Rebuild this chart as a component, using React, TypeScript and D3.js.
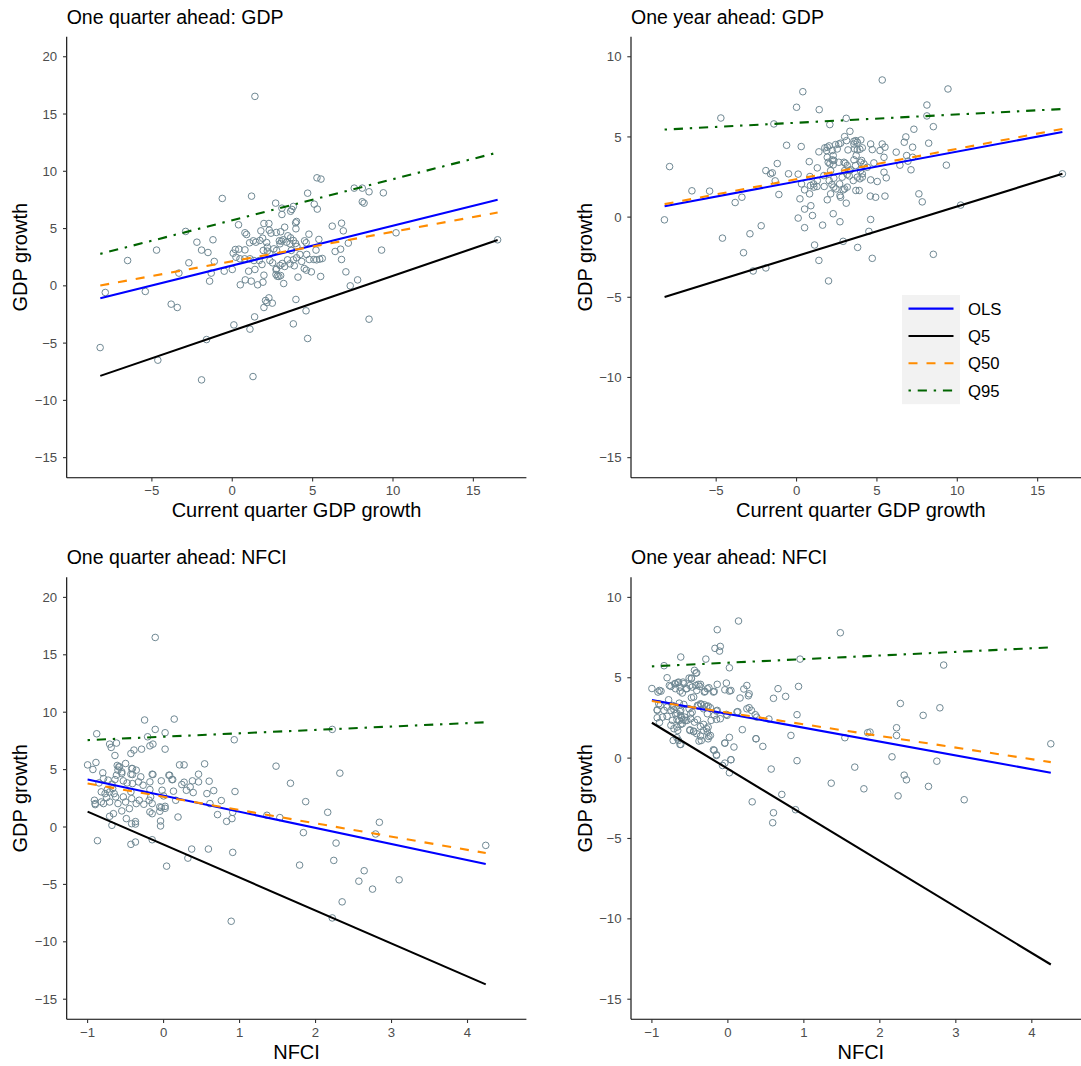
import React from "react";
import * as d3 from "d3";

// ---------- data ----------
const gdpLimits = [-9, 17];
const nfciLimits = [-1, 4.5];
const quarterYLimits = [-15, 20];
const yearYLimits = [-15, 10];

const gdpTicks = [-5, 0, 5, 10, 15];
const nfciTicks = [-1, 0, 1, 2, 3, 4];
const quarterYTicks = [-15, -10, -5, 0, 5, 10, 15, 20];
const yearYTicks = [-15, -10, -5, 0, 5, 10];

const seriesNames = ["OLS", "Q5", "Q50", "Q95"];

// fitted lines: [x start, x end] and per series [y at start, y at end]
const lineXQuarterGdp = [-8.21, 16.51];
const lineYQuarterGdp = [[-1.08, 7.51], [-7.86, 4.0], [0.03, 6.4], [2.79, 11.64]];
const lineXYearGdp = [-8.21, 16.54];
const lineYYearGdp = [[0.68, 5.31], [-4.98, 2.7], [0.81, 5.5], [5.46, 6.74]];
const lineXQuarterNfci = [-1.0, 4.24];
const lineYQuarterNfci = [[4.14, -3.23], [1.34, -13.71], [3.79, -2.27], [7.57, 9.12]];
const lineXYearNfci = [-1.0, 4.25];
const lineYYearNfci = [[3.61, -0.91], [2.2, -12.84], [3.55, -0.25], [5.71, 6.89]];

const pointsQuarterGdp = [
  [1.41,16.54],[-8.22,-5.39],[-7.9,-0.58],[-6.51,2.21],[-5.41,-0.49],[-4.71,3.12],[-4.63,-6.49],[-3.8,-1.6],[-3.42,-1.89],[-2.9,4.75],
  [-3.32,1.11],[-2.7,2.01],[-2.2,3.81],[-1.91,3.12],[-1.51,2.91],[-1.2,4.02],[-1.12,2.13],[-1.31,1.11],[-1.41,0.41],[-1.6,-4.69],
  [-1.91,-8.21],[-0.62,7.63],[-0.5,1.28],[0,1.43],[0.1,-3.41],[0.39,5.33],[0.06,2.85],[0.19,3.17],[0.41,3.2],[0.5,0.09],
  [0.79,4.63],[0.89,4.48],[0.79,3.14],[0.77,2.36],[0.81,0.52],[1.02,1.28],[1.1,-3.78],[1.2,7.83],[1.18,0.41],[1.08,3.76],
  [1.31,3.93],[1.41,1.43],[1.39,-2.71],[1.29,-7.92],[1.58,0.09],[1.78,4.8],[1.89,4.16],[1.97,5.44],[1.85,1.86],[1.97,0.93],
  [1.91,0.32],[2.07,-1.28],[2.16,-1.46],[2.28,-1.05],[1.97,-1.89],[2.49,-1.51],[2.28,5.44],[2.3,4.86],[2.41,4.6],[2.14,3.78],
  [2.18,3.03],[2.34,2.21],[2.51,2.01],[2.7,7.22],[2.74,4.66],[2.93,3.93],[2.97,3.67],[3.01,4.72],[3.09,6.78],[3.09,6.23],
  [3.11,1.95],[3.2,0.2],[2.72,1.43],[2.8,0.84],[2.9,0.82],[3.01,0.9],[3.26,5.12],[3.46,4.37],[3.63,4.19],[3.71,6.67],
  [3.8,6.93],[3.94,5.5],[4.0,5.62],[3.96,4.98],[3.8,3.96],[3.94,3.7],[4.02,3.44],[3.59,3.67],[3.67,3.09],[3.44,2.27],
  [3.8,2.27],[3.86,1.75],[4.09,0.76],[3.96,-1.19],[3.8,-3.32],[4.59,-2.18],[4.69,-4.6],[4.69,8.09],[4.5,3.93],[4.6,3.76],
  [4.77,4.51],[4.48,1.51],[4.61,1.37],[4.32,2.13],[4.63,2.74],[4.79,2.3],[4.92,1.22],[5.08,2.3],[5.21,3.12],[5.44,2.33],
  [5.6,2.39],[5.39,4.05],[5.5,0.82],[5.1,7.13],[5.29,6.7],[5.27,9.43],[5.52,9.32],[6.22,5.21],[6.4,3.0],[6.74,3.2],
  [6.8,5.47],[6.91,4.8],[6.8,2.3],[7.07,1.22],[7.22,3.73],[7.34,0],[7.59,8.53],[7.8,0.52],[8.09,8.53],[8.09,7.34],
  [8.2,7.22],[8.51,8.21],[8.51,-2.91],[9.29,3.12],[9.4,8.12],[10.19,4.63],[16.51,4.02],
  [0.23,2.5],[0.48,2.36],[1.47,3.81],[1.72,3.96],[2.18,3.38],[1.93,3.09],[2.34,2.79],[2.59,3.23],[2.76,3.09],[3.07,3.9],
  [3.17,4.02],[3.38,3.81],[4.21,2.74],[4.0,2.45],[3.59,1.92],[3.26,1.69],[2.97,1.78],[2.76,1.48],[1.68,2.21],[1.35,2.21],
  [1.1,2.36],[2.72,0.99],[5.25,2.27],[3.63,6.51]
];

const pointsYearGdp = [
  [-8.22,-0.17],[-7.9,3.15],[-6.51,1.64],[-5.41,1.62],[-4.71,6.18],[-4.61,-1.31],[-3.82,0.91],[-3.4,1.24],[-3.3,-2.22],[-2.9,-1.04],
  [-2.7,-3.36],[-2.2,-0.54],[-1.91,-3.17],[-1.91,2.9],[-1.62,2.7],[-1.51,2.76],[-1.41,5.81],[-1.33,2.26],[-1.2,3.34],[-1.1,1.41],
  [-0.62,4.48],[-0.5,2.7],[0,6.85],[0.1,2.68],[0.1,-0.06],[0.21,1.14],[0.29,4.4],[0.39,7.82],[0.5,-0.66],[0.5,1.7],
  [0.5,0.5],[0.79,3.46],[0.83,2.53],[0.81,1.45],[0.89,0.71],[0.99,0.1],[1.06,2.07],[1.12,-1.74],[1.29,3.07],[1.27,1.91],
  [1.39,4.07],[1.41,6.7],[1.39,-2.7],[1.62,-0.5],[1.72,1.91],[1.76,4.32],[1.91,1.08],[1.99,-3.98],[2.03,4.44],[2.07,5.77],
  [2.07,3.32],[2.12,2.9],[2.12,1.45],[2.2,2.03],[2.28,0.21],[2.28,3.84],[2.32,3.53],[2.32,2.43],[2.45,1.76],[2.63,4.56],
  [2.7,-0.29],[2.7,1.35],[2.74,1.24],[2.84,2.49],[2.9,-1.51],[2.9,1.7],[2.99,5.02],[3.09,6.16],[3.09,0.87],[3.03,3.36],
  [3.15,2.66],[3.2,4.19],[3.32,5.35],[3.36,2.95],[3.57,4.56],[3.69,4.77],[3.71,3.84],[3.69,1.66],[3.9,1.66],[3.8,-1.89],
  [3.94,4.23],[4.0,4.81],[4.05,3.53],[4.09,2.49],[3.94,2.39],[4.5,-0.89],[4.61,4.56],[4.61,2.32],[4.59,1.31],[4.61,-0.15],
  [4.71,-2.57],[4.71,4.21],[4.81,3.38],[4.92,1.24],[5.02,2.22],[5.19,4.15],[5.33,8.55],[5.33,4.56],[5.44,3.73],[5.5,4.36],
  [5.44,2.8],[5.58,2.45],[5.5,1.31],[6.2,4.05],[6.43,3.24],[6.7,4.67],[6.8,5.0],[6.85,3.84],[6.93,3.49],[7.12,2.95],
  [7.22,4.36],[7.3,5.48],[7.22,3.73],[7.61,1.45],[7.82,0.95],[8.11,6.99],[8.11,6.31],[8.22,4.61],[8.51,5.64],[8.51,-2.32],
  [9.32,3.24],[9.42,7.99],[10.21,0.75],[16.54,2.7],
  [3.11,4.77],[2.74,4.61],[2.43,4.52],[1.91,4.36],[1.87,4.15],[2.22,4.15],[2.53,4.25],[3.57,4.73],[3.78,4.67],[3.61,4.25],
  [3.78,4.19],[4.09,4.32],[1.91,3.73],[1.97,3.42],[2.22,3.57],[2.28,3.26],[2.63,3.42],[2.95,3.42],[3.15,3.22],[2.99,2.9],
  [3.28,2.9],[3.57,3.57],[3.67,3.22],[3.98,3.42],[4.19,3.32],[4.4,3.11],[3.98,2.9],[4.09,2.7],[3.78,2.49],[3.53,2.28],
  [3.28,2.57],[2.68,2.07],[2.32,1.87],[2.03,2.28],[1.7,2.59],[1.29,2.28],[1.08,1.87],[0.87,1.97],[0.31,2.07],[2.99,1.76],
  [3.15,1.87]
];

const pointsQuarterNfci = [
  [-0.11,16.51],[-1.0,5.41],[-0.93,5.01],[-0.89,5.62],[-0.88,8.12],[-0.87,-1.19],[-0.91,2.33],[-0.9,2.04],[-0.8,4.72],[-0.71,7.22],
  [-0.69,6.93],[-0.62,7.31],[-0.64,6.23],[-0.59,5.24],[-0.61,5.36],[-0.6,4.95],[-0.5,5.53],[-0.55,4.8],[-0.43,4.6],[-0.41,5.09],
  [-0.43,6.4],[-0.39,6.7],[-0.29,6.78],[-0.25,9.32],[-0.21,7.86],[-0.18,7.07],[-0.14,7.22],[-0.11,8.5],[0.02,8.21],[0.02,6.78],
  [0.14,9.4],[-0.15,4.6],[-0.03,4.02],[0.08,4.51],[0.12,4.13],[0.21,5.41],[0.27,5.41],[0.27,3.9],[0.24,3.7],[0.38,4.02],
  [0.39,3.0],[0.3,3.2],[0.13,3.12],[-0.02,3.2],[0.0,2.71],[0.16,2.33],[0.02,1.63],[-0.03,1.69],[-0.05,1.37],[-0.04,0.52],
  [-0.04,0.09],[0.19,0.87],[-0.15,-1.11],[0.04,-3.41],[0.37,-1.92],[0.32,-2.71],[0.46,4.6],[0.54,5.5],[0.6,3.99],[0.57,2.91],
  [0.66,3.17],[0.61,2.04],[0.59,-1.92],[0.76,2.3],[0.71,1.08],[0.83,0.49],[0.89,-8.21],[0.91,1.28],[0.91,-2.21],[0.93,7.6],
  [0.94,3.09],[1.36,1.02],[1.48,5.3],[1.53,0.82],[1.67,3.81],[1.79,-3.32],[1.84,-0.49],[1.87,2.21],[2.16,1.28],[2.22,8.5],
  [2.22,-7.92],[2.24,-2.91],[2.27,-1.4],[2.32,4.69],[2.35,-6.52],[2.57,-4.72],[2.64,-3.81],[2.75,-5.41],[2.79,-0.61],[2.84,0.41],
  [3.1,-4.6],[4.24,-1.6],
  [-0.85,3.84],[-0.79,4.22],[-0.73,4.08],[-0.68,3.73],[-0.64,4.13],[-0.62,4.51],[-0.58,5.24],[-0.55,4.66],[-0.53,4.02],[-0.48,3.84],
  [-0.42,5.09],[-0.41,4.57],[-0.36,4.95],[-0.3,4.37],[-0.33,3.93],[-0.41,3.78],[-0.27,3.64],[-0.18,3.93],[-0.14,4.57],[0.07,4.51],
  [0.11,4.13],[-0.82,3.06],[-0.77,2.91],[-0.74,3.26],[-0.71,3.06],[-0.67,3.35],[-0.65,2.91],[-0.63,2.62],[-0.75,2.56],[-0.82,2.18],
  [-0.9,1.95],[-0.79,2.04],[-0.71,2.18],[-0.6,2.04],[-0.53,2.62],[-0.5,2.18],[-0.43,3.06],[-0.42,2.47],[-0.36,2.04],[-0.32,2.33],
  [-0.26,1.98],[-0.19,2.33],[-0.45,1.6],[-0.55,1.4],[-0.66,1.16],[-0.71,0.93],[-0.68,0.15],[-0.49,0.73],[-0.42,0.29],[-0.37,0.47],
  [-0.37,0.26],[-0.18,1.31],[-0.15,1.16],[-0.05,1.75],[0.02,1.8],[-0.43,-1.51],[-0.37,-1.31],[-0.18,3.26],[-0.17,2.62],[-0.15,2.04],
  [0.35,3.49],[0.46,3.93],[0.9,0.73]
];

const pointsYearNfci = [
  [0.14,8.53],[-0.14,7.99],[1.48,7.8],[-0.17,6.83],[-0.1,6.95],[-0.11,6.66],[-0.62,6.29],[-0.29,6.16],[0.95,6.16],[-0.84,5.75],
  [0.02,5.62],[2.84,5.79],[-0.44,5.46],[-0.41,5.31],[-0.8,5.0],[-0.51,4.98],[-0.48,4.98],[-1.0,4.33],[-0.9,4.21],[-0.92,4.11],
  [-0.88,4.17],[-0.75,4.46],[-0.7,4.63],[-0.66,4.69],[-0.63,4.42],[-0.69,4.32],[-0.63,4.17],[-0.59,4.73],[-0.55,4.32],[-0.6,4.05],
  [-0.47,4.42],[-0.42,4.52],[-0.39,4.59],[-0.37,4.46],[-0.41,4.21],[-0.3,4.15],[-0.25,4.38],[-0.18,4.15],[-0.14,4.59],[-0.02,4.67],
  [-0.04,4.25],[0.02,4.17],[0.25,4.52],[0.21,4.3],[0.16,3.74],[0.27,3.88],[0.66,4.32],[0.6,3.72],[0.76,3.84],[0.93,4.46],
  [-0.78,3.63],[-0.91,3.38],[-0.93,2.97],[-0.86,2.55],[-0.9,2.22],[-0.8,3.17],[-0.73,3.28],[-0.71,3.01],[-0.69,2.76],[-0.64,3.42],
  [-0.63,2.9],[-0.62,2.65],[-0.64,2.34],[-0.6,2.14],[-0.66,1.72],[-0.72,1.1],[-0.67,1.27],[-0.63,0.85],[-0.57,2.55],[-0.54,2.34],
  [-0.59,2.38],[-0.49,2.76],[-0.48,3.76],[-0.45,3.8],[-0.5,1.72],[-0.45,1.64],[-0.41,1.52],[-0.38,1.06],[-0.36,1.37],[-0.44,2.24],
  [-0.39,3.26],[-0.35,3.34],[-0.31,3.32],[-0.28,3.22],[-0.26,3.24],[-0.32,2.1],[-0.26,1.93],[-0.27,1.62],[-0.26,1.2],[-0.23,1.41],
  [-0.22,2.35],[-0.15,2.41],[-0.15,2.93],[-0.02,2.72],[-0.18,0.48],[-0.15,0.21],[-0.04,0.94],[0.02,1.29],[-0.04,-0.31],[0.02,-0.91],
  [0.04,-0.1],[0.08,0.69],[0.12,2.87],[0.13,2.89],[0.19,1.77],[0.28,3.14],[0.31,2.97],[0.36,2.7],[0.38,2.55],[0.37,1.21],
  [0.46,0.73],[0.54,2.43],[0.57,-0.68],[0.6,-3.4],[0.59,-4.02],[0.71,-2.26],[0.32,-2.72],[0.83,1.41],[0.91,2.7],[0.91,-0.16],
  [0.89,-3.21],[1.36,-1.56],[1.54,1.27],[1.67,-0.56],[1.79,-1.91],[1.84,1.58],[1.87,1.62],[2.16,0.08],[2.22,1.89],[2.22,1.41],
  [2.24,-2.35],[2.27,3.4],[2.32,-1.06],[2.35,-1.35],[2.57,2.66],[2.64,-1.76],[2.75,-0.19],[2.79,3.13],[3.11,-2.59],[4.25,0.89],
  [-0.77,4.52],[-0.69,4.63],[-0.65,4.73],[-0.58,4.63],[-0.54,4.32],[-0.5,4.52],[-0.48,4.94],[-0.42,5.29],[-0.36,4.59],[-0.31,4.11],
  [-0.27,4.32],[-0.19,4.11],[0.04,4.21],[0.28,4.0],
  [-0.93,3.01],[-0.89,3.28],[-0.84,2.97],[-0.75,2.97],[-0.71,3.22],[-0.67,2.8],[-0.62,2.97],[-0.58,3.34],[-0.51,3.07],[-0.47,2.86],
  [-0.4,3.28],[-0.36,3.38],[-0.32,3.07],[-0.27,2.76],[-0.23,3.13],[-0.18,2.66],[-0.14,2.97],[-0.1,2.45],[-0.01,2.66],[0.25,3.07],
  [-0.93,2.51],[-0.8,2.6],[-0.73,2.35],[-0.67,2.39],[-0.61,2.51],[-0.56,2.35],[-0.49,2.45],[-0.4,2.39],[-0.75,2.04],[-0.71,1.83],
  [-0.67,1.93],[-0.62,2.1],[-0.5,1.76],[-0.45,1.68],[-0.36,1.97],[-0.32,1.72],[-0.28,1.83],[-0.25,1.35],[-0.35,1.1],[-0.62,0.85],
  [-0.65,1.1],[-0.19,0.52],[-0.15,0.17],[-0.07,-0.46],[0.04,-0.1],[-0.04,0.93],[0.37,1.2]
];

// ---------- styles ----------
const FONT = "'Liberation Sans', Arial, Helvetica, sans-serif";
const seriesColor = ["#0000FF", "#000000", "#FF8C00", "#006400"];
const seriesDash = [null, null, "9,9", "2.4,6.8,9.2,6.8"];
const pointColor = "#6F8893";

type PanelCfg = {
  title: string;
  xLabel: string;
  left: number;
  right: number;
  top: number;
  bottom: number;
  xLim: number[];
  yLim: number[];
  xTicks: number[];
  yTicks: number[];
  points: number[][];
  lineX: number[];
  lineY: number[][];
  legend?: boolean;
};

const expand = (lim: number[]) => {
  const w = lim[1] - lim[0];
  return [lim[0] - 0.05 * w, lim[1] + 0.05 * w];
};

const fmt = (v: number) => (v < 0 ? "\u2212" + Math.abs(v) : String(v));

function Panel({ cfg }: { cfg: PanelCfg }) {
  const x = d3.scaleLinear().domain(expand(cfg.xLim)).range([cfg.left, cfg.right]);
  const y = d3.scaleLinear().domain(expand(cfg.yLim)).range([cfg.bottom, cfg.top]);
  const line = d3
    .line<number[]>()
    .x((d) => x(d[0]))
    .y((d) => y(d[1]));
  const midX = (cfg.left + cfg.right) / 2;
  const midY = (cfg.top + cfg.bottom) / 2;
  return (
    <g>
      <text x={cfg.left} y={cfg.top - 13} fontSize={19.5} fontFamily={FONT} fill="#000">
        {cfg.title}
      </text>
      {cfg.points.map((p, i) => (
        <circle
          key={i}
          cx={x(p[0])}
          cy={y(p[1])}
          r={3.3}
          fill="none"
          stroke={pointColor}
          strokeWidth={1}
        />
      ))}
      {cfg.lineY.map((ys, i) => (
        <path
          key={i}
          d={line([[cfg.lineX[0], ys[0]], [cfg.lineX[1], ys[1]]]) || ""}
          fill="none"
          stroke={seriesColor[i]}
          strokeWidth={2.1}
          strokeDasharray={seriesDash[i] || undefined}
        />
      ))}
      {/* axes */}
      <line x1={cfg.left} x2={cfg.left} y1={cfg.top} y2={cfg.bottom} stroke="#000" strokeWidth={1.1} />
      <line x1={cfg.left} x2={cfg.right} y1={cfg.bottom} y2={cfg.bottom} stroke="#000" strokeWidth={1.1} />
      {cfg.yTicks.map((t) => (
        <g key={"y" + t}>
          <line x1={cfg.left - 3.7} x2={cfg.left} y1={y(t)} y2={y(t)} stroke="#333" strokeWidth={1.1} />
          <text
            x={cfg.left - 9.5}
            y={y(t) + 4.6}
            textAnchor="end"
            fontSize={13.2}
            fontFamily={FONT}
            fill="#4D4D4D"
          >
            {fmt(t)}
          </text>
        </g>
      ))}
      {cfg.xTicks.map((t) => (
        <g key={"x" + t}>
          <line x1={x(t)} x2={x(t)} y1={cfg.bottom} y2={cfg.bottom + 3.7} stroke="#333" strokeWidth={1.1} />
          <text
            x={x(t)}
            y={cfg.bottom + 17.3}
            textAnchor="middle"
            fontSize={13.2}
            fontFamily={FONT}
            fill="#4D4D4D"
          >
            {fmt(t)}
          </text>
        </g>
      ))}
      <text x={midX} y={cfg.bottom + 39.5} textAnchor="middle" fontSize={20} fontFamily={FONT} fill="#000">
        {cfg.xLabel}
      </text>
      <text
        transform={`translate(${cfg.left - 39.5},${midY}) rotate(-90)`}
        textAnchor="middle"
        fontSize={20}
        fontFamily={FONT}
        fill="#000"
      >
        GDP growth
      </text>
      {cfg.legend && <Legend />}
    </g>
  );
}

function Legend() {
  const kx = 902;
  const ky = 295;
  const kw = 58;
  const kh = 27.3;
  return (
    <g>
      <rect x={kx} y={ky} width={kw} height={kh * seriesNames.length} fill="#F2F2F2" />
      {seriesNames.map((name, i) => {
        const cy = ky + kh * (i + 0.5);
        return (
          <g key={name}>
            <line
              x1={kx + 6.5}
              x2={kx + kw - 6.5}
              y1={cy}
              y2={cy}
              stroke={seriesColor[i]}
              strokeWidth={2.1}
              strokeDasharray={seriesDash[i] || undefined}
            />
            <text x={kx + 66} y={cy + 6} fontSize={16.7} fontFamily={FONT} fill="#000">
              {name}
            </text>
          </g>
        );
      })}
    </g>
  );
}

const panels: PanelCfg[] = [
  {
    title: "One quarter ahead: GDP",
    xLabel: "Current quarter GDP growth",
    left: 66.7, right: 526.4, top: 36.7, bottom: 477.7,
    xLim: gdpLimits, yLim: quarterYLimits, xTicks: gdpTicks, yTicks: quarterYTicks,
    points: pointsQuarterGdp, lineX: lineXQuarterGdp, lineY: lineYQuarterGdp,
  },
  {
    title: "One year ahead: GDP",
    xLabel: "Current quarter GDP growth",
    left: 631, right: 1090.7, top: 36.7, bottom: 477.7,
    xLim: gdpLimits, yLim: yearYLimits, xTicks: gdpTicks, yTicks: yearYTicks,
    points: pointsYearGdp, lineX: lineXYearGdp, lineY: lineYYearGdp, legend: true,
  },
  {
    title: "One quarter ahead: NFCI",
    xLabel: "NFCI",
    left: 66.7, right: 526.4, top: 577.3, bottom: 1019.3,
    xLim: nfciLimits, yLim: quarterYLimits, xTicks: nfciTicks, yTicks: quarterYTicks,
    points: pointsQuarterNfci, lineX: lineXQuarterNfci, lineY: lineYQuarterNfci,
  },
  {
    title: "One year ahead: NFCI",
    xLabel: "NFCI",
    left: 631, right: 1090.7, top: 577.3, bottom: 1019.3,
    xLim: nfciLimits, yLim: yearYLimits, xTicks: nfciTicks, yTicks: yearYTicks,
    points: pointsYearNfci, lineX: lineXYearNfci, lineY: lineYYearNfci,
  },
];

export default function App() {
  return (
    <svg
      width={1081}
      height={1066}
      style={{ position: "absolute", left: 0, top: 0, background: "#fff" }}
    >
      <rect x={0} y={0} width={1081} height={1066} fill="#fff" />
      {panels.map((p, i) => (
        <Panel key={i} cfg={p} />
      ))}
    </svg>
  );
}
